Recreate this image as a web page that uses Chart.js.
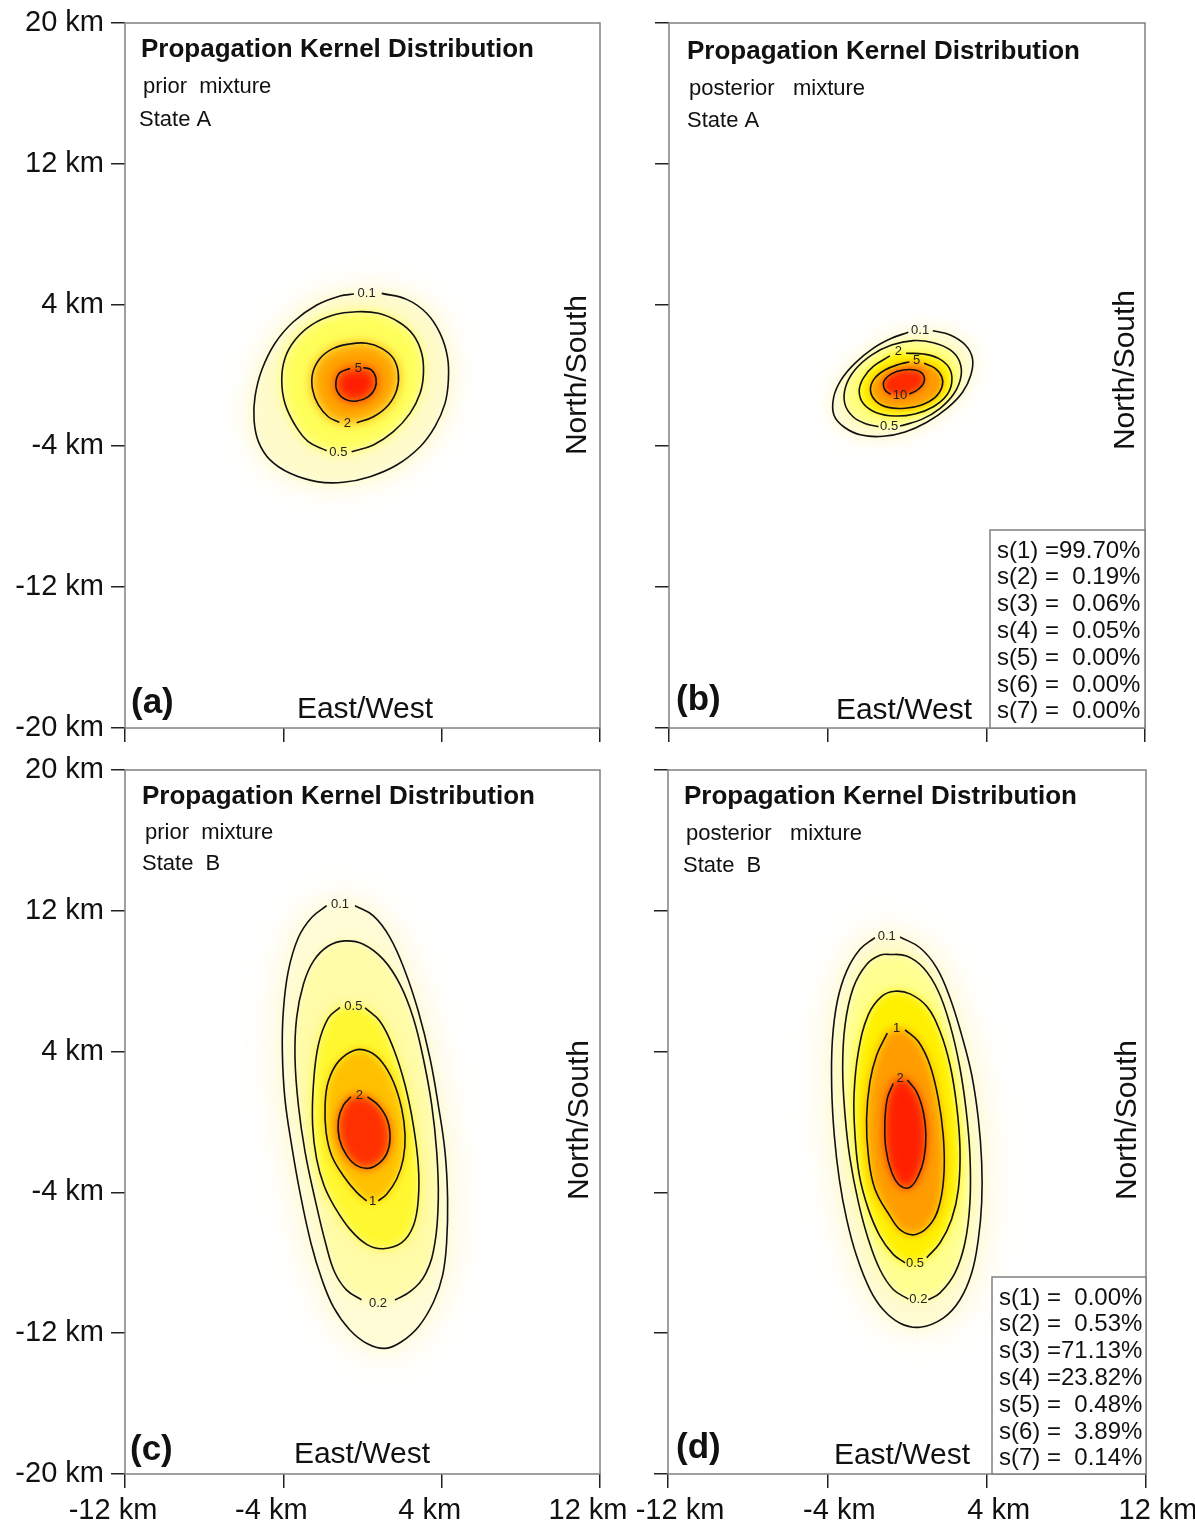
<!DOCTYPE html>
<html>
<head>
<meta charset="utf-8">
<script src="https://cdn.jsdelivr.net/npm/chart.js@4.4.1/dist/chart.umd.min.js"></script>
<style>
html,body{margin:0;padding:0;background:#fff;}
body{width:1195px;height:1528px;position:relative;overflow:hidden;}
canvas{position:absolute;}
</style>
</head>
<body>
<canvas id="pa"></canvas>
<canvas id="pb"></canvas>
<canvas id="pc"></canvas>
<canvas id="pd"></canvas>
<script>
// ---------------- axis ticks ----------------
const xTickValues = [-12, -4, 4, 12];
const xTickLabels = ['-12 km', '-4 km', '4 km', '12 km'];
const yTickValues = [20, 12, 4, -4, -12, -20];
const yTickLabels = ['20 km', '12 km', '4 km', '-4 km', '-12 km', '-20 km'];

// ---------------- panel texts ----------------
const panelTitles = ['Propagation Kernel Distribution', 'Propagation Kernel Distribution', 'Propagation Kernel Distribution', 'Propagation Kernel Distribution'];
const mixtureLabels = ['prior  mixture', 'posterior   mixture', 'prior  mixture', 'posterior   mixture'];
const stateLabels = ['State A', 'State A', 'State  B', 'State  B'];
const panelLetters = ['(a)', '(b)', '(c)', '(d)'];
const xAxisTitle = 'East/West';
const yAxisTitle = 'North/South';
const shareLabelsB = ['s(1) =99.70%', 's(2) =  0.19%', 's(3) =  0.06%', 's(4) =  0.05%', 's(5) =  0.00%', 's(6) =  0.00%', 's(7) =  0.00%'];
const shareLabelsD = ['s(1) =  0.00%', 's(2) =  0.53%', 's(3) =71.13%', 's(4) =23.82%', 's(5) =  0.48%', 's(6) =  3.89%', 's(7) =  0.14%'];

// ---------------- panel (a): prior mixture, State A (km) ----------------
const aLevels = ['0.1', '0.5', '2', '5'];
const aLabelPos = [[0.21, 4.66], [-1.22, -4.38], [-0.77, -2.71], [-0.21, 0.40]];
const aC01 = [[0.97,4.66],[2.23,4.32],[3.24,3.53],[3.92,2.39],[4.29,1.07],[4.34,-0.26],[4.17,-1.58],[3.66,-2.90],[2.91,-4.04],[1.73,-5.08],[0.38,-5.74],[-0.97,-6.06],[-2.31,-6.02],[-3.66,-5.55],[-4.67,-4.79],[-5.26,-3.75],[-5.48,-2.52],[-5.43,-1.20],[-5.09,0.31],[-4.42,1.83],[-3.49,3.05],[-2.31,4.00],[-1.14,4.51],[-0.43,4.62]];
const aC05 = [[-0.55,-4.32],[0.55,-3.94],[1.56,-3.19],[2.40,-2.15],[2.91,-1.01],[3.08,0.12],[2.99,1.26],[2.57,2.30],[1.81,3.05],[0.80,3.53],[-0.29,3.62],[-1.47,3.43],[-2.57,2.87],[-3.41,2.01],[-3.92,0.97],[-4.08,-0.26],[-3.92,-1.58],[-3.41,-2.81],[-2.74,-3.75],[-1.81,-4.27]];
const aC2 = [[-0.29,-2.68],[0.55,-2.34],[1.31,-1.67],[1.73,-0.82],[1.81,0.12],[1.56,0.97],[0.97,1.54],[0.21,1.83],[-0.63,1.79],[-1.47,1.54],[-2.15,0.97],[-2.52,0.12],[-2.52,-0.82],[-2.23,-1.67],[-1.73,-2.34],[-1.17,-2.66]];
const aC5 = [[0.04,0.46],[0.46,0.31],[0.68,-0.16],[0.63,-0.73],[0.30,-1.20],[-0.29,-1.45],[-0.88,-1.35],[-1.27,-0.92],[-1.34,-0.35],[-1.14,0.16],[-0.63,0.40]];

// ---------------- panel (b): posterior mixture, State A (km) ----------------
const bLevels = ['0.1', '0.5', '2', '5', '10'];
const bLabelPos = [[0.66, 2.56], [-0.90, -2.90], [-0.44, 1.35], [0.49, 0.84], [-0.35, -1.14]];
const bC01 = [[1.30,2.54],[2.18,2.30],[2.94,1.73],[3.30,0.97],[3.22,0.03],[2.80,-0.95],[2.03,-1.85],[1.00,-2.65],[-0.10,-3.20],[-1.20,-3.45],[-2.30,-3.38],[-3.14,-2.95],[-3.68,-2.25],[-3.70,-1.25],[-3.33,-0.26],[-2.63,0.69],[-1.71,1.54],[-0.78,2.11],[0.07,2.45]];
const bC05 = [[-0.35,-2.87],[0.74,-2.49],[1.67,-1.86],[2.38,-1.01],[2.72,-0.07],[2.65,0.79],[2.18,1.45],[1.33,1.86],[0.32,1.98],[-0.78,1.73],[-1.79,1.16],[-2.63,0.31],[-3.09,-0.63],[-3.14,-1.58],[-2.72,-2.34],[-2.04,-2.75],[-1.44,-2.90]];
const bC2 = [[-0.05,1.26],[0.83,1.22],[1.59,0.97],[2.14,0.41],[2.26,-0.35],[2.01,-1.11],[1.33,-1.77],[0.40,-2.18],[-0.61,-2.30],[-1.54,-2.11],[-2.18,-1.62],[-2.41,-0.92],[-2.21,-0.16],[-1.67,0.54],[-0.86,1.11]];
const bC5 = [[0.86,0.69],[1.42,0.41],[1.76,-0.10],[1.76,-0.67],[1.42,-1.24],[0.74,-1.67],[-0.10,-1.86],[-0.95,-1.81],[-1.57,-1.45],[-1.84,-0.86],[-1.67,-0.22],[-1.11,0.31],[-0.35,0.65],[0.12,0.77]];
const bC10 = [[0.12,-1.05],[0.57,-0.78],[0.86,-0.35],[0.79,0.09],[0.40,0.31],[-0.19,0.31],[-0.78,0.09],[-1.17,-0.35],[-1.11,-0.82],[-0.83,-1.07]];

// ---------------- panel (c): prior mixture, State B (km) ----------------
const cLevels = ['0.1', '0.2', '0.5', '1', '2'];
const cLabelPos = [[-1.14, 12.38], [0.78, -10.29], [-0.46, 6.57], [0.51, -4.53], [-0.16, 1.52]];
const cC01 = [[-0.38,12.29],[0.55,11.71],[1.39,10.48],[2.15,8.57],[2.82,6.29],[3.41,3.62],[3.83,0.95],[4.17,-1.71],[4.30,-4.38],[4.25,-6.86],[4.05,-8.70],[3.60,-10.20],[2.85,-11.60],[1.95,-12.50],[1.14,-12.86],[0.25,-12.60],[-0.65,-11.80],[-1.45,-10.55],[-2.05,-8.95],[-2.60,-6.90],[-3.16,-4.00],[-3.58,-1.33],[-3.92,1.33],[-4.05,4.00],[-4.00,6.29],[-3.75,8.57],[-3.24,10.48],[-2.57,11.62],[-1.81,12.29]];
const cC02 = [[-0.05,-10.10],[-0.80,-9.55],[-1.40,-8.55],[-1.85,-6.95],[-2.40,-4.38],[-2.90,-1.71],[-3.24,0.95],[-3.41,3.62],[-3.33,5.90],[-2.99,7.81],[-2.48,9.14],[-1.73,10.00],[-0.88,10.29],[0.04,10.10],[1.05,9.24],[1.90,7.81],[2.57,5.90],[3.07,3.62],[3.50,0.95],[3.75,-1.71],[3.83,-4.38],[3.66,-6.86],[3.20,-8.60],[2.45,-9.60],[1.64,-10.11]];
const cC05 = [[0.13,6.48],[0.89,5.71],[1.56,4.19],[2.15,2.10],[2.57,-0.19],[2.82,-2.48],[2.82,-4.38],[2.57,-5.90],[1.98,-6.86],[1.05,-7.20],[0.21,-6.95],[-0.63,-6.10],[-1.39,-4.86],[-1.94,-3.62],[-2.32,-2.10],[-2.52,-0.19],[-2.48,2.10],[-2.23,4.38],[-1.73,5.90],[-1.14,6.51]];
const cC1 = [[0.80,-4.48],[1.22,-4.10],[1.73,-3.24],[2.06,-2.10],[2.15,-0.76],[1.98,0.76],[1.56,2.29],[0.97,3.43],[0.30,4.02],[-0.40,4.08],[-1.22,3.43],[-1.73,2.29],[-1.89,0.95],[-1.84,-0.57],[-1.56,-1.90],[-0.97,-3.05],[-0.29,-4.00],[0.21,-4.48]];
const cC2 = [[0.25,1.43],[0.80,0.95],[1.26,0.10],[1.39,-0.95],[1.22,-1.81],[0.80,-2.38],[0.30,-2.63],[-0.29,-2.48],[-0.80,-1.90],[-1.17,-0.95],[-1.22,0.10],[-0.97,0.95],[-0.58,1.43]];

// ---------------- panel (d): posterior mixture, State B (km) ----------------
const dLevels = ['0.1', '0.2', '0.5', '1', '2'];
const dLabelPos = [[-1.02, 10.57], [0.57, -10.10], [0.40, -8.06], [-0.52, 5.33], [-0.35, 2.48]];
const dC01 = [[-0.35,10.51],[0.65,9.90],[1.49,8.76],[2.16,7.05],[2.74,4.95],[3.25,2.67],[3.58,0.19],[3.75,-2.29],[3.75,-4.57],[3.58,-6.67],[3.25,-8.57],[2.66,-10.10],[1.82,-11.14],[0.65,-11.66],[-0.35,-11.43],[-1.19,-10.67],[-1.86,-9.52],[-2.53,-7.62],[-3.03,-5.52],[-3.40,-3.24],[-3.65,-0.76],[-3.78,1.90],[-3.75,4.57],[-3.50,6.86],[-3.03,8.57],[-2.36,9.81],[-1.61,10.48]];
const dC02 = [[1.07,-10.10],[1.66,-9.71],[2.41,-8.57],[2.91,-6.86],[3.16,-4.57],[3.16,-1.90],[2.96,0.76],[2.63,3.24],[2.16,5.52],[1.57,7.43],[0.82,8.76],[-0.02,9.43],[-0.86,9.52],[-1.36,9.47],[-2.03,8.95],[-2.70,7.62],[-3.11,5.52],[-3.23,3.05],[-3.11,0.38],[-2.86,-2.10],[-2.44,-4.57],[-1.94,-6.67],[-1.36,-8.38],[-0.69,-9.52],[0.07,-10.06]];
const dC05 = [[0.99,-7.71],[1.66,-6.86],[2.24,-5.52],[2.58,-3.81],[2.66,-1.52],[2.49,0.95],[2.16,3.24],[1.66,5.14],[0.99,6.57],[0.15,7.28],[-0.60,7.43],[-1.27,7.14],[-1.94,6.10],[-2.44,4.00],[-2.66,1.52],[-2.61,-0.76],[-2.39,-3.05],[-1.94,-4.95],[-1.36,-6.48],[-0.69,-7.52],[-0.10,-8.00]];
const dC1 = [[-0.10,5.24],[0.57,4.57],[1.15,3.24],[1.57,1.33],[1.82,-0.76],[1.86,-2.86],[1.66,-4.57],[1.24,-5.71],[0.48,-6.38],[-0.27,-6.19],[-0.86,-5.33],[-1.61,-3.81],[-1.94,-1.90],[-2.03,0.19],[-1.86,2.29],[-1.52,3.81],[-0.99,5.05]];
const dC2 = [[0.02,2.38],[0.48,1.71],[0.82,0.57],[0.95,-0.76],[0.85,-2.10],[0.57,-3.05],[0.15,-3.71],[-0.35,-3.62],[-0.77,-2.86],[-1.06,-1.52],[-1.11,0.00],[-0.99,1.33],[-0.69,2.19]];

// ---------------- rendering ----------------
const FONT = '"Liberation Sans", Arial, Helvetica, sans-serif';

// plugin that blurs the filled density layers (must run before the filler)
const blurPlugin = {
  id: 'kernelBlur',
  beforeDatasetDraw(chart, args) {
    const ds = chart.data.datasets[args.index];
    if (ds && ds.blurPx) { chart.ctx.save(); chart.ctx.filter = 'blur(' + ds.blurPx + 'px)'; }
  },
  afterDatasetDraw(chart, args) {
    const ds = chart.data.datasets[args.index];
    if (ds && ds.blurPx) { chart.ctx.restore(); }
  }
};
try {
  const fillerPlugin = Chart.registry.getPlugin('filler');
  Chart.unregister(fillerPlugin);
  Chart.register(blurPlugin, fillerPlugin);
} catch (e) {
  Chart.register(blurPlugin);
}

function toXY(arr) { return arr.map(p => ({ x: p[0], y: p[1] })); }

function buildDatasets(contours, labelPos, fillColors, haloColor, blurPx, haloBlur) {
  const lines = contours.map(c => ({
    data: toXY(c), borderColor: '#111', borderWidth: 1.6, tension: 0.4,
    fill: false, pointRadius: 0
  }));
  const closed = contours.map((c, i) => toXY(c.concat([labelPos[i], c[0]])));
  const fills = closed.map((d, i) => ({
    data: d, borderColor: 'rgba(0,0,0,0)', borderWidth: 0, tension: 0.4,
    fill: 'shape', backgroundColor: fillColors[i], pointRadius: 0, blurPx: blurPx
  })).reverse();
  const halo = {
    data: closed[0], borderColor: 'rgba(0,0,0,0)', borderWidth: 0, tension: 0.4,
    fill: 'shape', backgroundColor: haloColor, pointRadius: 0, blurPx: haloBlur
  };
  return lines.concat(fills, [halo]);
}

function panelPlugin(p) {
  return {
    id: 'panelDecor',
    afterDatasetsDraw(chart) {
      const ctx = chart.ctx, xs = chart.scales.x, ys = chart.scales.y;
      ctx.save();
      ctx.font = '13px ' + FONT;
      ctx.fillStyle = '#222';
      ctx.textAlign = 'center';
      ctx.textBaseline = 'middle';
      p.levels.forEach((t, i) => {
        ctx.fillText(t, xs.getPixelForValue(p.labelPos[i][0]), ys.getPixelForValue(p.labelPos[i][1]));
      });
      ctx.restore();
    },
    afterDraw(chart) {
      const ctx = chart.ctx, a = chart.chartArea;
      ctx.save();
      ctx.strokeStyle = '#808080';
      ctx.lineWidth = 1.5;
      ctx.strokeRect(a.left, a.top, a.right - a.left, a.bottom - a.top);
      ctx.fillStyle = '#111';
      ctx.textBaseline = 'middle';
      ctx.textAlign = 'left';
      ctx.font = 'bold 26px ' + FONT;
      ctx.fillText(panelTitles[p.i], a.left + p.title[0], a.top + p.title[1]);
      ctx.font = '22px ' + FONT;
      ctx.fillText(mixtureLabels[p.i], a.left + p.mix[0], a.top + p.mix[1]);
      ctx.fillText(stateLabels[p.i], a.left + p.state[0], a.top + p.state[1]);
      ctx.font = 'bold 35px ' + FONT;
      ctx.fillText(panelLetters[p.i], a.left + p.letter[0], a.bottom + p.letter[1]);
      ctx.font = '30px ' + FONT;
      ctx.textAlign = 'center';
      ctx.fillText(xAxisTitle, a.left + p.ew[0], a.bottom + p.ew[1]);
      ctx.save();
      ctx.translate(a.right + p.ns[0], a.top + p.ns[1]);
      ctx.rotate(-Math.PI / 2);
      ctx.fillText(yAxisTitle, 0, 0);
      ctx.restore();
      if (p.shares) {
        const bx = a.right - p.box[0], by = a.bottom - p.box[1];
        ctx.fillStyle = '#fff';
        ctx.fillRect(bx, by, a.right - bx, a.bottom - by);
        ctx.strokeStyle = '#808080';
        ctx.lineWidth = 1.5;
        ctx.strokeRect(bx, by, a.right - bx, a.bottom - by);
        ctx.fillStyle = '#111';
        ctx.textAlign = 'left';
        ctx.font = '24px ' + FONT;
        p.shares.forEach((t, i) => ctx.fillText(t, bx + 7, by + 21 + i * 26.8));
      }
      ctx.restore();
    }
  };
}

function makeChart(p) {
  const cv = document.getElementById(p.id);
  cv.width = p.w; cv.height = p.h;
  cv.style.left = p.left + 'px'; cv.style.top = p.top + 'px';
  cv.style.width = p.w + 'px'; cv.style.height = p.h + 'px';
  return new Chart(cv, {
    type: 'line',
    data: { datasets: buildDatasets(p.contours, p.labelPos, p.fills, p.halo, p.blur, p.haloBlur) },
    options: {
      responsive: false, animation: false, devicePixelRatio: 1,
      layout: { padding: { left: 0, top: 23, right: p.padR, bottom: 0 } },
      plugins: {
        legend: { display: false }, tooltip: { enabled: false }, title: { display: false },
        filler: { drawTime: 'beforeDatasetDraw', propagate: false }
      },
      events: [],
      scales: {
        x: {
          type: 'linear', min: -12, max: 12,
          afterBuildTicks: s => { s.ticks = xTickValues.map(v => ({ value: v })); },
          afterFit: s => { s.height = p.xH; s.paddingLeft = 0; s.paddingRight = 0; },
          ticks: {
            display: p.showX, autoSkip: false, maxRotation: 0, minRotation: 0, padding: 6,
            labelOffset: p.xLabelOffset, color: '#111', font: { family: FONT, size: 29 },
            callback: (v, i) => xTickLabels[i]
          },
          grid: { display: true, drawOnChartArea: false, drawTicks: true, tickLength: 14, color: '#222', lineWidth: 1.5 },
          border: { display: false }
        },
        y: {
          type: 'linear', min: -20, max: 20,
          afterBuildTicks: s => { s.ticks = yTickValues.map(v => ({ value: v })); },
          afterFit: s => { s.width = p.yW; s.paddingTop = 0; s.paddingBottom = 0; },
          ticks: {
            display: p.showY, autoSkip: false, padding: 7, color: '#111',
            font: { family: FONT, size: 29 },
            callback: (v, i) => yTickLabels[i]
          },
          grid: { display: true, drawOnChartArea: false, drawTicks: true, tickLength: 14, color: '#222', lineWidth: 1.5 },
          border: { display: false }
        }
      }
    },
    plugins: [panelPlugin(p)]
  });
}

const panels = [
  { id: 'pa', i: 0, left: 0, top: 0, w: 630, h: 760, yW: 125, xH: 32, padR: 30, showY: true, showX: false, xLabelOffset: 0,
    contours: [aC01, aC05, aC2, aC5], levels: aLevels, labelPos: aLabelPos,
    fills: ['#fffbca', '#ffff5a', '#ffa400', '#ff1e00'], halo: '#fff7c8', blur: 6, haloBlur: 18,
    title: [16, 27], mix: [18, 64], state: [14, 97], letter: [6, -25], ew: [240, -18], ns: [-22, 352] },
  { id: 'pb', i: 1, left: 600, top: 0, w: 595, h: 760, yW: 69, xH: 32, padR: 50, showY: false, showX: false, xLabelOffset: 0,
    contours: [bC01, bC05, bC2, bC5, bC10], levels: bLevels, labelPos: bLabelPos,
    fills: ['#fffcd2', '#ffff84', '#fff000', '#ff9a00', '#ff2a00'], halo: '#fff8cc', blur: 3, haloBlur: 12,
    title: [18, 29], mix: [20, 66], state: [18, 98], letter: [7, -28], ew: [235, -17], ns: [-19, 347],
    shares: shareLabelsB, box: [155, 198] },
  { id: 'pc', i: 2, left: 0, top: 747, w: 630, h: 781, yW: 125, xH: 54, padR: 30, showY: true, showX: true, xLabelOffset: -12,
    contours: [cC01, cC02, cC05, cC1, cC2], levels: cLevels, labelPos: cLabelPos,
    fills: ['#fffcd6', '#fffba6', '#fff830', '#ffc000', '#ff3000'], halo: '#fff6c4', blur: 5, haloBlur: 20,
    title: [17, 27], mix: [20, 63], state: [17, 94], letter: [5, -24], ew: [237, -19], ns: [-20, 350] },
  { id: 'pd', i: 3, left: 600, top: 747, w: 595, h: 781, yW: 68, xH: 54, padR: 49, showY: false, showX: true, xLabelOffset: 12,
    contours: [dC01, dC02, dC05, dC1, dC2], levels: dLevels, labelPos: dLabelPos,
    fills: ['#fffbd0', '#ffff90', '#fff000', '#ff9c00', '#ff2000'], halo: '#fff6c4', blur: 5, haloBlur: 20,
    title: [16, 27], mix: [18, 64], state: [15, 96], letter: [8, -26], ew: [234, -18], ns: [-18, 350],
    shares: shareLabelsD, box: [154, 197] }
];

panels.forEach(makeChart);
</script>
</body>
</html>
